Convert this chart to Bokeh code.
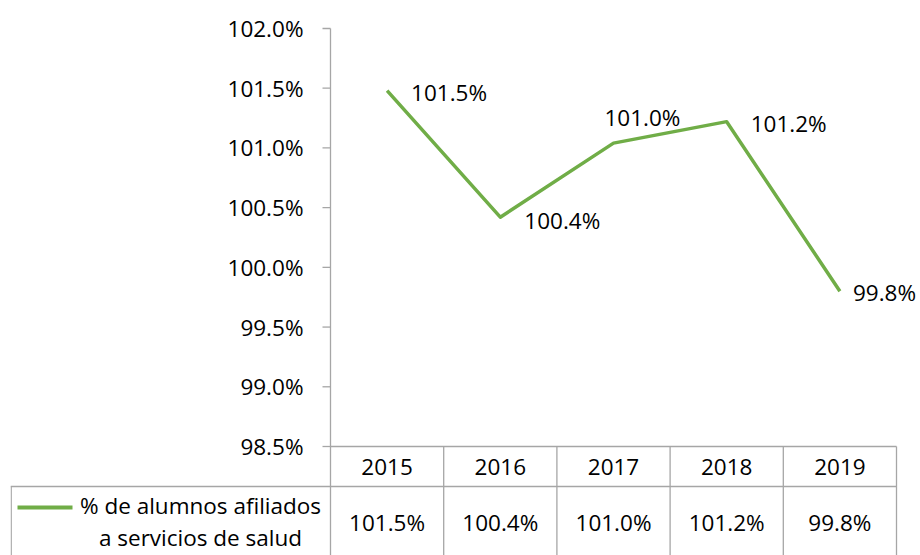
from bokeh.plotting import figure
from bokeh.models import Range1d
from bokeh.core.properties import value
from bokeh.embed import file_html
from bokeh.resources import INLINE

# ---- data ----
years = ["2015", "2016", "2017", "2018", "2019"]
pct = [101.48, 100.42, 101.04, 101.22, 99.80]
y_ticks = [98.5, 99.0, 99.5, 100.0, 100.5, 101.0, 101.5, 102.0]
series_name = ["% de alumnos afiliados", "a servicios de salud"]

# ---- style / layout ----
FONT = "Open Sans"
FS = "22.5px"
GREEN = "#70AD47"
GRAY = "#A6A6A6"

PAGE_L, PAGE_T = 0, 0
frame_left, frame_right = 10, 920
frame_top, frame_bottom = 0, 555
axis_x, col_w = 330, 113.2
y_top_px, y_bot_px = 28, 446
ppu = (y_bot_px - y_top_px) / (y_ticks[-1] - y_ticks[0])

x_start = (frame_left - axis_x) / col_w
x_end = (frame_right - axis_x) / col_w
y_end = y_ticks[-1] + (y_top_px - frame_top) / ppu
y_start = y_ticks[0] - (frame_bottom - y_bot_px) / ppu

W = (frame_left - PAGE_L) + (frame_right - frame_left)
H = frame_bottom - PAGE_T

p = figure(width=W, height=H, x_range=Range1d(x_start, x_end), y_range=Range1d(y_start, y_end),
           output_backend="svg", toolbar_location=None, x_axis_type=None, y_axis_type=None,
           min_border_left=frame_left - PAGE_L, min_border_right=0,
           min_border_top=frame_top - PAGE_T, min_border_bottom=0)
p.outline_line_color = None
p.grid.visible = False
p.background_fill_color = "white"
p.border_fill_color = "white"
p.extra_x_ranges = {"px": Range1d(frame_left, frame_right)}
p.extra_y_ranges = {"py": Range1d(frame_bottom, frame_top)}

n = len(years)
xs = [i + 0.5 for i in range(n)]

# ---- y axis (drawn at x = 0) ----
p.segment(x0=[0], y0=[y_start], x1=[0], y1=[y_ticks[-1]], line_color=GRAY, line_width=1.3)
p.segment(x0=[axis_x - 8] * len(y_ticks), x1=[axis_x] * len(y_ticks), y0=y_ticks, y1=y_ticks,
          x_range_name="px", line_color=GRAY, line_width=1.3)
p.text(x=[axis_x - 27] * len(y_ticks), y=y_ticks, text=[f"{t:.1f}%" for t in y_ticks],
       x_range_name="px", text_align="right", text_baseline="middle",
       text_font=value(FONT), text_font_size=FS, text_color="black")

# ---- data table ----
row1_top, row2_top = y_bot_px, 486
table_right = axis_x + n * col_w
p.segment(x0=[axis_x, frame_left], x1=[table_right, table_right], y0=[row1_top, row2_top], y1=[row1_top, row2_top],
          x_range_name="px", y_range_name="py", line_color=GRAY, line_width=1.3)
vx = [axis_x + k * col_w for k in range(1, n + 1)] + [frame_left + 0.7]
vy0 = [row1_top] * n + [row2_top]
p.segment(x0=vx, x1=vx, y0=vy0, y1=[frame_bottom] * len(vx),
          x_range_name="px", y_range_name="py", line_color=GRAY, line_width=1.3)
p.text(x=xs, y=[466] * n, text=years, y_range_name="py", text_align="center", text_baseline="middle",
       text_font=value(FONT), text_font_size=FS, text_color="black")
p.text(x=xs, y=[522] * n, text=[f"{v:.1f}%" for v in pct], y_range_name="py",
       text_align="center", text_baseline="middle",
       text_font=value(FONT), text_font_size=FS, text_color="black")

# legend key
p.line(x=[17, 72], y=[507, 507], x_range_name="px", y_range_name="py", line_color=GREEN, line_width=4)
p.text(x=[200, 200], y=[505, 537], text=series_name, x_range_name="px", y_range_name="py",
       text_align="center", text_baseline="middle",
       text_font=value(FONT), text_font_size=FS, text_color="black")

# ---- series ----
p.line(x=xs, y=pct, line_color=GREEN, line_width=3.5, line_join="round")
label_dx = [24, 24, -9, 24, 13]
label_dy = [2, 3, -26, 2, 1]
p.text(x=xs, y=pct, text=[f"{v:.1f}%" for v in pct], x_offset=label_dx, y_offset=label_dy,
       text_align="left", text_baseline="middle",
       text_font=value(FONT), text_font_size=FS, text_color="black")

open("out.html", "w").write(file_html(p, INLINE))
